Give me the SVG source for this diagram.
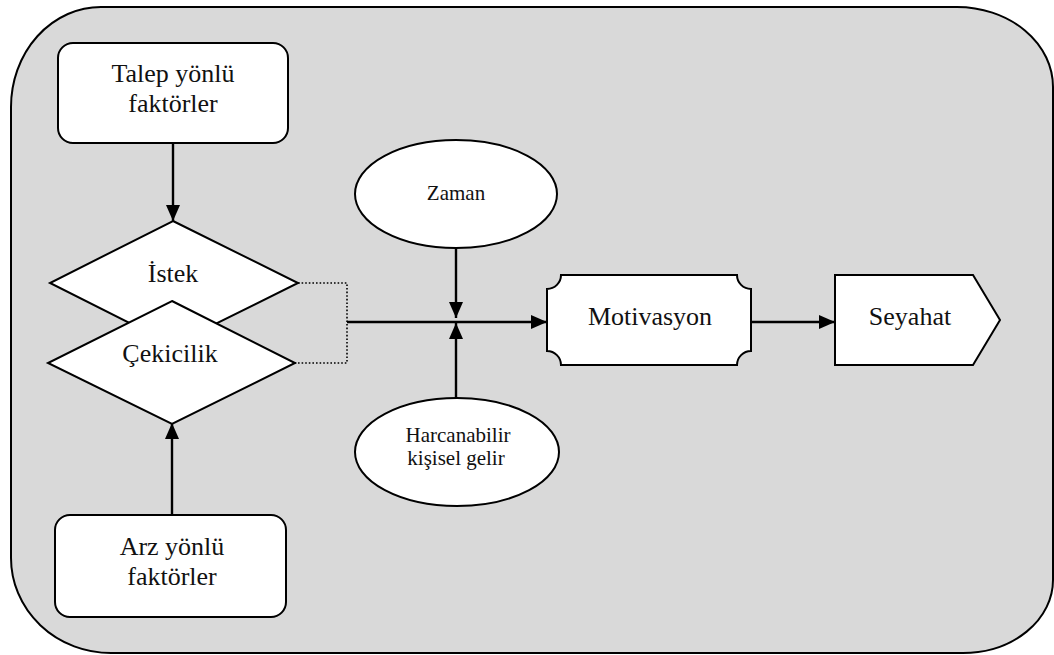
<svg xmlns="http://www.w3.org/2000/svg" width="1054" height="655" viewBox="0 0 1054 655">
  <defs>
    <marker id="arrow" viewBox="0 0 16 14" refX="16" refY="7" markerWidth="16" markerHeight="14" markerUnits="userSpaceOnUse" orient="auto">
      <path d="M0,0 L16,7 L0,14 Z" fill="#000"/>
    </marker>
    <style>
      .shape { fill: #fff; stroke: #000; stroke-width: 2; }
      .lbl { font-family: "Liberation Serif", "Times New Roman", serif; font-size: 26px; fill: #111; text-anchor: middle; }
      .small { font-size: 21px; }
      .edge { fill: none; stroke: #000; stroke-width: 2.4; }
      .dot { fill: none; stroke: #000; stroke-width: 1.6; stroke-dasharray: 1.6 2; }
    </style>
  </defs>

  <rect width="1054" height="655" fill="#fff"/>

  <!-- frame -->
  <path id="frame" d="M101,7 H957 A96,80 0 0 1 1053,87 V580 A90,73 0 0 1 963,653 H111 A100,95 0 0 1 11,558 V107 A90,100 0 0 1 101,7 Z" fill="#d9d9d9" stroke="#000" stroke-width="2"/>

  <!-- connectors -->
  <g id="connectors">
    <line class="edge" x1="173" y1="143" x2="173" y2="221" marker-end="url(#arrow)"/>
    <line class="edge" x1="172" y1="515" x2="172" y2="423" marker-end="url(#arrow)"/>
    <path class="dot" d="M298,283 H347 V363 H295"/>
    <line class="edge" x1="347" y1="322" x2="547" y2="322" marker-end="url(#arrow)"/>
    <line class="edge" x1="456" y1="248" x2="456" y2="318" marker-end="url(#arrow)"/>
    <line class="edge" x1="456" y1="398" x2="456" y2="323" marker-end="url(#arrow)"/>
    <line class="edge" x1="751" y1="322" x2="835" y2="322" marker-end="url(#arrow)"/>
  </g>

  <g id="talep">
    <rect class="shape" x="58" y="43" width="230" height="100" rx="15" ry="15"/>
    <text class="lbl" x="173" y="82">Talep yönlü</text>
    <text class="lbl" x="173" y="112">faktörler</text>
  </g>

  <g id="istek">
    <polygon class="shape" points="173,221 298,283 173,345 50,283"/>
    <text class="lbl" x="173" y="282">İstek</text>
  </g>

  <g id="cekicilik">
    <polygon class="shape" points="172,301 295,363 172,424 48,363"/>
    <text class="lbl" x="170" y="362">Çekicilik</text>
  </g>

  <g id="arz">
    <rect class="shape" x="55" y="515" width="231" height="102" rx="15" ry="15"/>
    <text class="lbl" x="172" y="555">Arz yönlü</text>
    <text class="lbl" x="172" y="585">faktörler</text>
  </g>

  <g id="zaman">
    <ellipse class="shape" cx="456" cy="194" rx="101" ry="54"/>
    <text class="lbl small" x="456" y="200">Zaman</text>
  </g>

  <g id="gelir">
    <ellipse class="shape" cx="457" cy="452" rx="102" ry="54"/>
    <text class="lbl small" x="458" y="442">Harcanabilir</text>
    <text class="lbl small" x="456" y="465">kişisel gelir</text>
  </g>

  <g id="motivasyon">
    <path class="shape" d="M561,275 H737 A14,14 0 0 0 751,289 V351 A14,14 0 0 0 737,365 H561 A14,14 0 0 0 547,351 V289 A14,14 0 0 0 561,275 Z"/>
    <text class="lbl" x="650" y="325">Motivasyon</text>
  </g>

  <g id="seyahat">
    <polygon class="shape" points="835,275 973,275 1000,320 973,365 835,365"/>
    <text class="lbl" x="910" y="325">Seyahat</text>
  </g>
</svg>
